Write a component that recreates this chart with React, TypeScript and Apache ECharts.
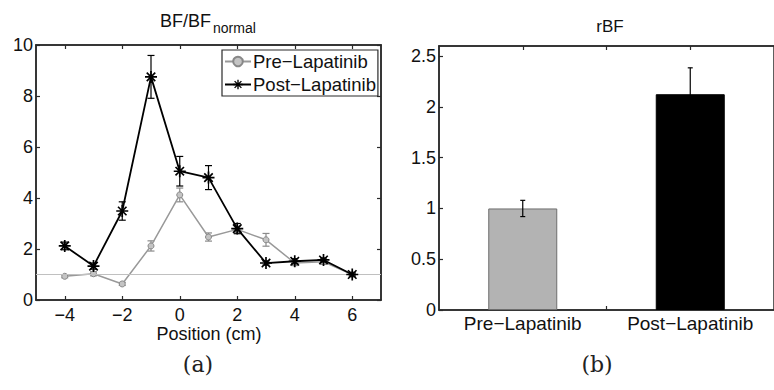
import React, { useEffect, useRef } from "react";
import * as echarts from "echarts";

// ---- Data ----
const positions = [-4, -3, -2, -1, 0, 1, 2, 3, 4, 5, 6];
const preValues = [0.93, 1.03, 0.63, 2.12, 4.12, 2.47, 2.77, 2.36, 1.45, 1.5, 1.0];
const preErrors = [0.06, 0.08, 0.06, 0.2, 0.27, 0.16, 0.12, 0.25, 0.1, 0.1, 0.06];
const postValues = [2.12, 1.33, 3.49, 8.75, 5.05, 4.8, 2.8, 1.45, 1.52, 1.57, 1.0];
const postErrors = [0.15, 0.12, 0.36, 0.84, 0.58, 0.47, 0.2, 0.08, 0.1, 0.08, 0.06];
const referenceLevel = 1;
const leftXTicks = [-4, -2, 0, 2, 4, 6];

const rbfCategories = ["Pre-Lapatinib", "Post-Lapatinib"];
const rbfValues = [1.0, 2.125];
const rbfErrors = [0.08, 0.26];
const rbfYTicks = [0, 0.5, 1, 1.5, 2, 2.5];
const rbfXTicks = [1, 1.5, 2];

const seriesNames = ["Pre-Lapatinib", "Post-Lapatinib"];

const FONT = "'Liberation Sans', Arial, Helvetica, sans-serif";
const AXIS_COLOR = "#2a2a2a";

const starPath =
  "path://M-1.4,-10 L1.4,-10 L1.4,10 L-1.4,10 Z M-10,-1.4 L10,-1.4 L10,1.4 L-10,1.4 Z " +
  "M-6.08,-8.06 L8.06,6.08 L6.08,8.06 L-8.06,-6.08 Z " +
  "M-8.06,6.08 L6.08,-8.06 L8.06,-6.08 L-6.08,8.06 Z";

const minus = (s: string) => s.replace(/-/g, "\u2212");

function errorSeries(
  name: string,
  xs: number[],
  vals: number[],
  errs: number[],
  color: string,
  cap: number,
  gridIndex: number,
  z: number
) {
  return {
    type: "custom",
    name: name + "-err",
    xAxisIndex: gridIndex === 0 ? 0 : 2,
    yAxisIndex: gridIndex === 0 ? 0 : 2,
    silent: true,
    z,
    data: xs.map((x, i) => [x, vals[i] - errs[i], vals[i] + errs[i]]),
    encode: { x: 0, y: [1, 2] },
    renderItem: (_params: any, api: any) => {
      const x = api.value(0);
      const lo = api.value(1);
      const hi = api.value(2);
      const pHi = api.coord([x, hi]);
      const pLo = api.coord([x, lo]);
      const style = { stroke: color, lineWidth: 1.2 };
      return {
        type: "group",
        children: [
          { type: "line", shape: { x1: pHi[0], y1: pHi[1], x2: pLo[0], y2: pLo[1] }, style },
          { type: "line", shape: { x1: pHi[0] - cap, y1: pHi[1], x2: pHi[0] + cap, y2: pHi[1] }, style },
          { type: "line", shape: { x1: pLo[0] - cap, y1: pLo[1], x2: pLo[0] + cap, y2: pLo[1] }, style },
        ],
      };
    },
  };
}

export default function App() {
  const ref = useRef<HTMLDivElement>(null);

  useEffect(() => {
    if (!ref.current) return;
    const chart = echarts.init(ref.current, null, { renderer: "svg" });

    const tickStyle = { inside: true, length: 4, lineStyle: { color: AXIS_COLOR, width: 1.2 } };
    const lineStyle = { show: true, onZero: false, lineStyle: { color: AXIS_COLOR, width: 1.5 } };

    const option: any = {
      animation: false,
      backgroundColor: "#fff",
      textStyle: { fontFamily: FONT },
      grid: [
        { left: 36, top: 45, right: 393, bottom: 90, show: true, borderColor: AXIS_COLOR, borderWidth: 1.5, backgroundColor: "transparent" },
        { left: 439, top: 46, right: -8.5, bottom: 80, show: true, borderColor: AXIS_COLOR, borderWidth: 1.5, backgroundColor: "transparent" },
      ],
      xAxis: [
        {
          type: "value", gridIndex: 0, min: -5, max: 7, position: "bottom",
          axisLine: lineStyle,
          axisTick: { ...tickStyle, customValues: leftXTicks },
          axisLabel: { customValues: leftXTicks, color: "#111", fontSize: 18, lineHeight: 13, margin: 8, fontFamily: FONT, formatter: (v: number) => minus(String(v)) },
          splitLine: { show: false },
        },
        {
          type: "value", gridIndex: 0, min: -5, max: 7, position: "top",
          axisLine: lineStyle,
          axisTick: { ...tickStyle, customValues: leftXTicks },
          axisLabel: { show: false },
          splitLine: { show: false },
        },
        {
          type: "value", gridIndex: 1, min: 0.5, max: 2.5, position: "bottom",
          axisLine: lineStyle,
          axisTick: { ...tickStyle, customValues: rbfXTicks },
          axisLabel: {
            customValues: [1, 2], color: "#111", fontSize: 19, margin: 4, fontFamily: FONT,
            formatter: (v: number) => minus(rbfCategories[Math.round(v) - 1] || ""),
          },
          splitLine: { show: false },
        },
        {
          type: "value", gridIndex: 1, min: 0.5, max: 2.5, position: "top",
          axisLine: lineStyle,
          axisTick: { ...tickStyle, customValues: rbfXTicks },
          axisLabel: { show: false },
          splitLine: { show: false },
        },
      ],
      yAxis: [
        {
          type: "value", gridIndex: 0, min: 0, max: 10, interval: 2, position: "left",
          axisLine: lineStyle,
          axisTick: tickStyle,
          axisLabel: { color: "#111", fontSize: 18, margin: 3, fontFamily: FONT },
          splitLine: { show: false },
        },
        {
          type: "value", gridIndex: 0, min: 0, max: 10, interval: 2, position: "right",
          axisLine: lineStyle,
          axisTick: tickStyle,
          axisLabel: { show: false },
          splitLine: { show: false },
        },
        {
          type: "value", gridIndex: 1, min: 0, max: 2.6, position: "left",
          axisLine: lineStyle,
          axisTick: { ...tickStyle, customValues: rbfYTicks },
          axisLabel: { customValues: rbfYTicks, color: "#111", fontSize: 18, margin: 3, fontFamily: FONT },
          splitLine: { show: false },
        },
      ],
      legend: {
        show: true,
        orient: "vertical",
        left: 222,
        top: 50,
        data: seriesNames,
        backgroundColor: "#fff",
        borderColor: AXIS_COLOR,
        borderWidth: 1.2,
        borderRadius: 0,
        padding: [2, 2, 2, 2],
        itemGap: 4,
        itemWidth: 26,
        itemHeight: 12,
        textStyle: { fontSize: 18.5, color: "#111", fontFamily: FONT, padding: [0, 0, 0, -3] },
        formatter: (n: string) => minus(n),
      },
      series: [
        {
          type: "line",
          name: seriesNames[0],
          xAxisIndex: 0,
          yAxisIndex: 0,
          data: positions.map((x, i) => [x, preValues[i]]),
          symbol: "circle",
          symbolSize: 6,
          lineStyle: { color: "#999", width: 1.5 },
          itemStyle: { color: "#c4c4c4", borderColor: "#888", borderWidth: 1 },
          z: 3,
          markLine: {
            silent: true,
            symbol: ["none", "none"],
            label: { show: false },
            lineStyle: { color: "#c0c0c0", width: 1, type: "solid" },
            data: [{ yAxis: referenceLevel }],
          },
        },
        errorSeries("pre", positions, preValues, preErrors, "#8a8a8a", 3.5, 0, 2),
        {
          type: "line",
          name: seriesNames[1],
          xAxisIndex: 0,
          yAxisIndex: 0,
          data: positions.map((x, i) => [x, postValues[i]]),
          symbol: starPath,
          symbolSize: 12,
          lineStyle: { color: "#000", width: 1.8 },
          itemStyle: { color: "#000" },
          z: 5,
        },
        errorSeries("post", positions, postValues, postErrors, "#000", 3.5, 0, 4),
        {
          type: "bar",
          name: "rBF",
          xAxisIndex: 2,
          yAxisIndex: 2,
          barWidth: 69,
          data: rbfCategories.map((_c, i) => ({
            value: [i + 1, rbfValues[i]],
            itemStyle: i === 0
              ? { color: "#b3b3b3", borderColor: "#6e6e6e", borderWidth: 1 }
              : { color: "#000", borderColor: "#000", borderWidth: 1 },
          })),
          z: 2,
        },
        errorSeries("rbf", rbfCategories.map((_c, i) => i + 1), rbfValues, rbfErrors, "#000", 2.5, 1, 4),
      ],
      graphic: [
        { type: "text", x: 160, y: 21, style: { text: "BF/BF", font: `18px ${FONT}`, fill: "#111", align: "left", verticalAlign: "middle" } },
        { type: "text", x: 213, y: 27.5, style: { text: "normal", font: `14px ${FONT}`, fill: "#111", align: "left", verticalAlign: "middle" } },
        { type: "text", x: 610, y: 26, style: { text: "rBF", font: `17px ${FONT}`, fill: "#111", align: "center", verticalAlign: "middle" } },
        { type: "text", x: 209, y: 334, style: { text: "Position (cm)", font: `18px ${FONT}`, lineHeight: 16, fill: "#111", align: "center", verticalAlign: "middle" } },
        { type: "text", x: 198, y: 364, style: { text: "(a)", font: `22px 'DejaVu Serif', serif`, fill: "#222", align: "center", verticalAlign: "middle" } },
        { type: "text", x: 597, y: 364, style: { text: "(b)", font: `22px 'DejaVu Serif', serif`, fill: "#222", align: "center", verticalAlign: "middle" } },
      ],
    };

    chart.setOption(option);
    return () => chart.dispose();
  }, []);

  return (
    <div
      ref={ref}
      style={{ position: "fixed", left: 0, top: 0, width: 774, height: 390, background: "#fff" }}
    />
  );
}
